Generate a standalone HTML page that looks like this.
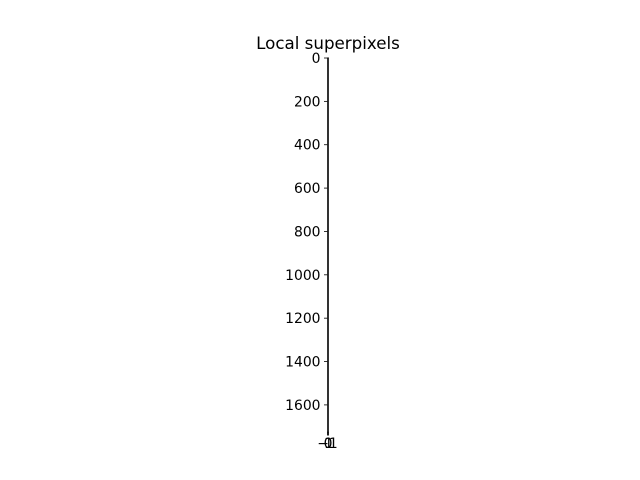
<!DOCTYPE html>
<html><head><meta charset="utf-8"><style>
body{margin:0;background:#fff;}
svg{display:block;font-family:"DejaVu Sans","Liberation Sans",sans-serif;}
</style></head><body>
<svg width="640" height="480">
<text x="328" y="49" font-size="16.7" text-anchor="middle">Local superpixels</text>
<g id="axes"></g>
</svg>
<script>
const yTicks=[0,200,400,600,800,1000,1200,1400,1600];
const xTicks=[-0.5,0.0,0.5];
const xTickLabels=["−1","0","1"];
const yMin=-0.5,yMax=1725;
const xMin=-0.5,xMax=0.5;
const axTop=57.9,axBottom=432,axLeft=327.5,axRight=328.5;
function ys(v){return axTop+(v-yMin)/(yMax-yMin)*(axBottom-axTop);}
function xs(v){return axLeft+(v-xMin)/(xMax-xMin)*(axRight-axLeft);}
const g=document.getElementById('axes');
const NS='http://www.w3.org/2000/svg';
function mk(t,a){const e=document.createElementNS(NS,t);for(const k in a)e.setAttribute(k,a[k]);g.appendChild(e);return e;}
yTicks.forEach(v=>{
  const y=ys(v);
  const l=mk('line',{x1:axLeft-3.5,x2:axLeft,y1:y,y2:y,stroke:'#000','stroke-width':0.8});
  
  
  const t=mk('text',{x:axLeft-7,y:y+5,'font-size':13.9,'text-anchor':'end'});
  t.textContent=v;
  
  
});
xTicks.forEach((v,i)=>{
  const x=xs(v);
  const l=mk('line',{x1:x,x2:x,y1:axBottom,y2:axBottom+3.5,stroke:'#000','stroke-width':0.8});
  
  
  const t=mk('text',{x:x,y:axBottom+16,'font-size':13.9,'text-anchor':'middle'});
  t.textContent=xTickLabels[i];
  
  
});
const f=mk('rect',{x:axLeft,y:axTop,width:axRight-axLeft,height:axBottom-axTop,fill:'none',stroke:'#000','stroke-width':0.8});


</script>
</body></html>
